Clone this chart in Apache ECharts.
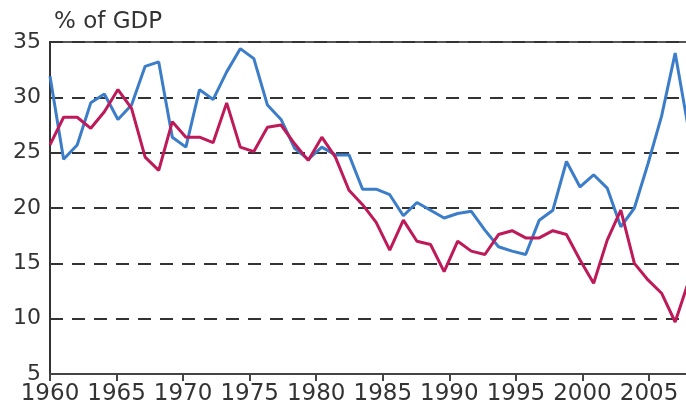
<!DOCTYPE html>
<html>
<head>
<meta charset="utf-8">
<script src="https://cdn.jsdelivr.net/npm/echarts@6/dist/echarts.min.js"></script>
<style>
  html, body { margin: 0; padding: 0; background: #fff; }
  #chart { width: 686px; height: 411px; }
</style>
</head>
<body>
<div id="chart"></div>
<script>
// years 1960..2007, one value per year (% of GDP)
const years = [];
for (let y = 1960; y <= 2007; y++) years.push(y);

const blueValues = [
  31.9, 24.4, 25.7, 29.5, 30.3, 28.0, 29.3, 32.8, 33.2, 26.4,
  25.5, 30.7, 29.8, 32.3, 34.4, 33.5, 29.3, 28.0, 25.4, 24.4,
  25.5, 24.8, 24.8, 21.7, 21.7, 21.2, 19.3, 20.5, 19.8, 19.1,
  19.5, 19.7, 18.0, 16.5, 16.1, 15.8, 18.9, 19.8, 24.2, 21.9,
  23.0, 21.8, 18.3, 20.0, 24.0, 28.3, 34.0, 27.0
];

const redValues = [
  25.7, 28.2, 28.2, 27.2, 28.7, 30.7, 29.0, 24.6, 23.4, 27.8,
  26.4, 26.4, 25.9, 29.5, 25.5, 25.1, 27.3, 27.5, 25.8, 24.3,
  26.4, 24.6, 21.6, 20.3, 18.7, 16.2, 18.9, 17.0, 16.7, 14.25,
  17.0, 16.1, 15.8, 17.6, 17.95, 17.3, 17.3, 17.95, 17.6, 15.3,
  13.2, 17.1, 19.8, 15.0, 13.5, 12.3, 9.7, 13.4
];

const yTicks = [5, 10, 15, 20, 25, 30, 35];

const chart = echarts.init(document.getElementById('chart'));

const font = 'DejaVu Sans';

// plot runs past the right edge of the picture (cropped like the original)
chart.setOption({
  animation: false,
  title: {
    text: '% of GDP',
    left: 49,
    top: 6,
    textStyle: { fontFamily: font, fontSize: 23, fontWeight: 'normal', color: '#333' }
  },
  grid: {
    left: 50,
    top: 42,
    width: 648,
    height: 332,
    outerBoundsMode: 'none',
    show: true,
    borderColor: '#555',
    borderWidth: 2
  },
  xAxis: [
    {
      // visible axis: ticks and labels
      type: 'value',
      min: 1960,
      max: 2008.68,
      interval: 5,
      axisLine: { lineStyle: { color: '#444', width: 2 } },
      axisTick: { show: true, length: 7, lineStyle: { color: '#444', width: 2 } },
      axisLabel: {
        showMaxLabel: false,
        fontFamily: font,
        fontSize: 23,
        color: '#333',
        margin: 9,
        formatter: v => String(v)
      },
      splitLine: { show: false }
    },
    {
      // data axis, same grid
      type: 'value',
      min: 1960,
      max: 2007.68,
      show: false
    }
  ],
  yAxis: {
    type: 'value',
    min: yTicks[0],
    max: yTicks[yTicks.length - 1],
    interval: 5,
    axisLine: { show: true, lineStyle: { color: '#333', width: 2 } },
    axisTick: { show: false },
    axisLabel: { fontFamily: font, fontSize: 22, color: '#333', margin: 9 },
    splitLine: { lineStyle: { type: [13, 9], color: '#333', width: 2 } }
  },
  series: [
    {
      name: 'blue',
      type: 'line',
      xAxisIndex: 1,
      data: years.map((y, i) => [y, blueValues[i]]),
      symbol: 'none',
      lineStyle: { color: '#3b7dc8', width: 3 }
    },
    {
      name: 'red',
      type: 'line',
      xAxisIndex: 1,
      data: years.map((y, i) => [y, redValues[i]]),
      symbol: 'none',
      lineStyle: { color: '#be1a5a', width: 3 }
    }
  ]
});
</script>
</body>
</html>
